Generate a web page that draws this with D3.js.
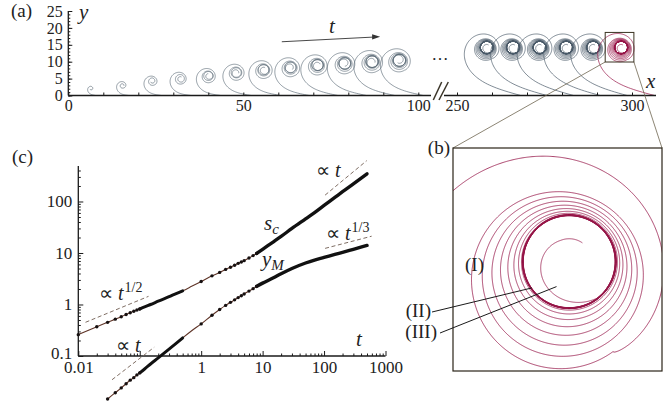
<!DOCTYPE html>
<html><head><meta charset="utf-8">
<script src="https://cdn.jsdelivr.net/npm/d3@7"></script>
<style>
body{margin:0;background:#fff}
svg{display:block}
</style></head><body>
<svg id="fig" width="672" height="409"></svg>
<script>
// ---------- (a) snapshots of the rolled-up sheet ----------
var snapX = [6.5, 15.5, 24, 32, 40, 48, 55.8, 63.5, 71.2, 79, 86.8, 94.6, 258.5, 266, 273.6, 281.2, 288.9, 296.9];
var snapY = [2.0, 3.0, 4.2, 5.0, 5.8, 6.8, 7.6, 8.3, 9.0, 9.5, 10.0, 10.4, 14.2, 14.2, 14.2, 14.2, 14.2, 14.2];
var snapRc = [0.6, 0.8, 1.0, 1.15, 1.3, 1.4, 1.5, 1.55, 1.6, 1.65, 1.7, 1.75, 1.8, 1.8, 1.8, 1.8, 1.8, 1.8];
var snapTurns = [0.6, 1.2, 1.6, 2, 2.4, 2.7, 3, 3.3, 3.6, 3.9, 4.2, 4.5, 8, 8, 8, 8, 8, 9];
var snapAmp = [0.4, 0.8, 1.05, 1.3, 1.45, 1.55, 1.65, 1.7, 1.75, 1.8, 1.85, 1.9, 1.8, 1.8, 1.8, 1.8, 1.8, 2.1];
var snapCore = [0, 0, 0, 0, 0.5, 0.5, 1, 1, 1.5, 1.5, 2, 2, 10, 10, 10, 10, 10, 12];

var yTicksA = [0, 5, 10, 15, 20, 25];
var xTicksL = [0, 50, 100];
var xTicksR = [250, 300];

// zoom window (data units of panel a) shown in panel b
var zoomX = [292.34, 300.54];
var zoomY = [9.91, 18.66];

// ---------- (c) growth of s_c and y_M ----------
var tVals = [0.01,0.02,0.03,0.04,0.05,0.06,0.07,0.08,0.09,0.1,0.12,0.15,0.2,0.3,0.4,0.5,0.7,
             1,1.5,2,2.5,3,3.5,4,4.5,5,6,7,8,10,15,20,30,50,70,100,150,200,300,500];
var scVals = [0.26,0.37,0.45,0.52,0.58,0.64,0.69,0.74,0.78,0.82,0.90,1.0,1.16,1.42,1.65,1.84,2.25,
              2.8,3.6,4.2,4.8,5.3,5.8,6.3,6.7,7.1,8.0,8.9,9.8,11.8,16.5,21,30,46,61,84,120,155,220,345];
var yMVals = [null,null,0.0146,0.0194,0.024,0.029,0.034,0.038,0.043,0.047,0.056,0.07,0.092,0.136,0.18,0.225,0.31,
              0.42,0.62,0.80,0.96,1.1,1.23,1.36,1.48,1.6,1.82,2.03,2.25,2.6,3.3,3.95,5.0,6.4,7.3,8.2,9.4,10.3,11.8,14.0];
// guide lines [t0, v0, t1, v1]
var guideHalf = [0.0131, 0.451, 0.139, 1.44];
var guideLowT = [0.0354, 0.0346, 0.172, 0.148];
var guideUpT = [104, 133, 495, 621];
var guideThird = [104, 12.3, 595, 21.2];
var yTicksC = [0.1, 1, 10, 100];
var xTicksC = [0.01, 0.1, 1, 10, 100, 1000];

var SERIF = '"Liberation Serif","Times New Roman",Times,serif';
var GREY = "#4a5a68", MAG = "#961547", INK = "#1a1a1a";

var svg = d3.select("#fig");

// ---------- spiral geometry ----------
var TH0 = 53 * Math.PI / 180;
function spiralPts(i, step) {
    var x0 = snapX[i], y0 = snapY[i], rc = snapRc[i], N = snapTurns[i],
        A = snapAmp[i], nc = snapCore[i];
    var coreSp = 0.002 * rc;
    var r0 = (y0 - 0.4 * A) / Math.sin(TH0);
    var tailA = r0 - rc - A - coreSp * nc;
    var U = N + nc, uEnd = U + 0.7;
    var pts = [];
    for (var u = 0; u <= uEnd + 1e-9; u += step) {
        var arch = u < N ? A * Math.pow((N - u) / N, 1.7) : 0;
        var h = u < 1 ? Math.sqrt(1 - u) / (1 + 10 * u) : 0;
        var base;
        if (u <= U) base = rc + coreSp * (U - Math.max(u, N));
        else {
            var f = Math.min(1, (u - U) / 0.55);
            base = rc * (0.5 + 0.5 * Math.pow(1 - f, 1.5));
        }
        var r = base + arch + tailA * h;
        var th = -TH0 - 2 * Math.PI * u;
        var cx = x0 - 0.25 * arch, cy = y0 - 0.4 * arch;
        pts.push([cx + r * Math.cos(th), cy + r * Math.sin(th)]);
    }
    return pts;
}

function styleAxis(g, size) {
    g.attr("font-family", null).attr("font-size", null);
    g.selectAll("text").attr("fill", "#222").style("font-family", SERIF).style("font-size", size + "px");
    g.selectAll("line").attr("stroke", INK).attr("stroke-width", 1);
    g.select(".domain").remove();
}

// ================= panel (a) =================
var xaL = d3.scaleLinear().domain([0, 100]).range([68.3, 418.3]);
var xaR = d3.scaleLinear().domain([250, 300]).range([457, 632]);
var ya = d3.scaleLinear().domain([0, 25]).range([95.5, 11]);
var ga = svg.append("g");

snapX.forEach(function (x, i) {
    var xs = x < 200 ? xaL : xaR;
    var line = d3.line().x(function (p) { return xs(p[0]); }).y(function (p) { return ya(p[1]); });
    ga.append("path")
        .attr("d", line(spiralPts(i, 1 / 120)))
        .attr("fill", "none")
        .attr("stroke", i === snapX.length - 1 ? MAG : GREY)
        .attr("stroke-width", x < 200 ? 0.6 : 0.7);
});

// y axis
ga.append("g").attr("transform", "translate(68.3,0)")
    .call(d3.axisLeft(ya).tickValues(d3.range(0, 26)).tickSize(-2).tickFormat(""))
    .call(styleAxis, 15);
ga.append("g").attr("transform", "translate(68.3,0)")
    .call(d3.axisLeft(ya).tickValues(yTicksA).tickSize(-4).tickPadding(5.5))
    .call(styleAxis, 16);
ga.append("line").attr("x1", 68.3).attr("x2", 68.3).attr("y1", ya(0)).attr("y2", ya(25))
    .attr("stroke", INK).attr("stroke-width", 1.3);

// x axis, two pieces
ga.append("g").attr("transform", "translate(0," + ya(0) + ")")
    .call(d3.axisBottom(xaL).tickValues(d3.range(0, 101, 10)).tickSize(-3).tickPadding(4.5)
        .tickFormat(function (d) { return xTicksL.indexOf(d) >= 0 ? d : ""; }))
    .call(styleAxis, 16);
ga.append("g").attr("transform", "translate(0," + ya(0) + ")")
    .call(d3.axisBottom(xaR).tickValues(d3.range(250, 301, 10)).tickSize(-3).tickPadding(4.5)
        .tickFormat(function (d) { return xTicksR.indexOf(d) >= 0 ? d : ""; }))
    .call(styleAxis, 16);
ga.append("line").attr("x1", 68.3).attr("x2", 431).attr("y1", ya(0)).attr("y2", ya(0))
    .attr("stroke", INK).attr("stroke-width", 1.3);
ga.append("line").attr("x1", 444).attr("x2", 656).attr("y1", ya(0)).attr("y2", ya(0))
    .attr("stroke", INK).attr("stroke-width", 1.3);
// break marks
[[433.3, 441.7], [439, 448.3]].forEach(function (b) {
    ga.append("line").attr("x1", b[0]).attr("y1", 100).attr("x2", b[1]).attr("y2", 82)
        .attr("stroke", "#3a3428").attr("stroke-width", 1.5);
});
ga.append("text").attr("x", 440).attr("y", 60).attr("text-anchor", "middle")
    .style("font-family", SERIF).style("font-size", "17px").attr("fill", "#222").text("…");

// arrow t
var arr = [[61, 15.9], [89.1, 17.4]];
ga.append("line").attr("x1", xaL(arr[0][0])).attr("y1", ya(arr[0][1]))
    .attr("x2", xaL(arr[1][0]) - 5).attr("y2", ya(arr[1][1]) + 0.3)
    .attr("stroke", "#333").attr("stroke-width", 0.9);
(function () {
    var ex = xaL(arr[1][0]), ey = ya(arr[1][1]);
    ga.append("path").attr("d", "M" + ex + "," + ey + "l-8,-2.4l0,5.2z").attr("fill", "#333");
})();

// labels (a)
function lab(g, x, y, txt, size, italic, anchor) {
    return g.append("text").attr("x", x).attr("y", y).attr("text-anchor", anchor || "start")
        .style("font-family", SERIF).style("font-size", size + "px")
        .style("font-style", italic ? "italic" : "normal").attr("fill", "#222").text(txt);
}
lab(ga, 11, 17, "(a)", 19);
lab(ga, 79, 19, "y", 21, true);
lab(ga, 646, 88, "x", 21, true);
lab(ga, 329, 33, "t", 21, true);

// zoom box and connectors
var bx0 = xaR(zoomX[0]), bx1 = xaR(zoomX[1]), by0 = ya(zoomY[1]), by1 = ya(zoomY[0]);
ga.append("line").attr("x1", bx0).attr("y1", by1).attr("x2", 453).attr("y2", 148)
    .attr("stroke", "#6e6650").attr("stroke-width", 0.8);
ga.append("line").attr("x1", bx1).attr("y1", by1).attr("x2", 662).attr("y2", 148)
    .attr("stroke", "#6e6650").attr("stroke-width", 0.8);
ga.append("rect").attr("x", bx0).attr("y", by0).attr("width", bx1 - bx0).attr("height", by1 - by0)
    .attr("fill", "none").attr("stroke", "#3b3322").attr("stroke-width", 1);

// ================= panel (b) =================
var xb = d3.scaleLinear().domain(zoomX).range([453, 662]);
var yb = d3.scaleLinear().domain(zoomY).range([371, 148]);
var gb = svg.append("g");
svg.append("clipPath").attr("id", "clipb").append("rect")
    .attr("x", 453).attr("y", 148).attr("width", 209).attr("height", 223);
var last = snapX.length - 1;
gb.append("path")
    .attr("clip-path", "url(#clipb)")
    .attr("d", d3.line().x(function (p) { return xb(p[0]); }).y(function (p) { return yb(p[1]); })(spiralPts(last, 1 / 720)))
    .attr("fill", "none").attr("stroke", MAG).attr("stroke-width", 0.8);
gb.append("rect").attr("x", 453).attr("y", 148).attr("width", 209).attr("height", 223)
    .attr("fill", "none").attr("stroke", "#2b2418").attr("stroke-width", 1.2);

// leaders (II) and (III)
var rcL = snapRc[last];
var tII = [snapX[last] + rcL * Math.cos(-145 * Math.PI / 180), snapY[last] + rcL * Math.sin(-145 * Math.PI / 180)];
var tIII = [snapX[last] + 0.61 * rcL * Math.cos(-117 * Math.PI / 180), snapY[last] + 0.61 * rcL * Math.sin(-117 * Math.PI / 180)];
gb.append("line").attr("x1", 432).attr("y1", 312).attr("x2", xb(tII[0])).attr("y2", yb(tII[1]))
    .attr("stroke", INK).attr("stroke-width", 1);
gb.append("line").attr("x1", 440).attr("y1", 333).attr("x2", xb(tIII[0])).attr("y2", yb(tIII[1]))
    .attr("stroke", INK).attr("stroke-width", 1);
lab(gb, 450, 154, "(b)", 19, false, "end");
lab(gb, 465, 271, "(I)", 19);
lab(gb, 431, 317, "(II)", 19, false, "end");
lab(gb, 437, 338, "(III)", 19, false, "end");

// ================= panel (c) =================
var xc = d3.scaleLog().domain([0.01, 1000]).range([78.3, 385.5]);
var yc = d3.scaleLog().domain([0.1, 489]).range([356, 166]);
var gc = svg.append("g");

var minorY = [], minorX = [];
[0.1, 1, 10, 100].forEach(function (d) { for (var k = 2; k < 10; k++) if (d * k < 489) minorY.push(d * k); });
[0.01, 0.1, 1, 10, 100].forEach(function (d) { for (var k = 2; k < 10; k++) minorX.push(d * k); });

gc.append("g").attr("transform", "translate(78.3,0)")
    .call(d3.axisLeft(yc).tickValues(minorY).tickSize(-2.5).tickFormat(""))
    .call(styleAxis, 16);
gc.append("g").attr("transform", "translate(78.3,0)")
    .call(d3.axisLeft(yc).tickValues(yTicksC).tickSize(-5).tickPadding(6).tickFormat(d3.format("~g")))
    .call(styleAxis, 17)
    .selectAll(".tick text").attr("dy", function (d) { return d === 0.1 ? "0.12em" : "0.32em"; });
gc.append("g").attr("transform", "translate(0,356)")
    .call(d3.axisBottom(xc).tickValues(minorX).tickSize(-2.5).tickFormat(""))
    .call(styleAxis, 16);
gc.append("g").attr("transform", "translate(0,356)")
    .call(d3.axisBottom(xc).tickValues(xTicksC).tickSize(-5).tickPadding(5)
        .tickFormat(function (d) { return d === 0.1 ? "" : d3.format("~g")(d); }))
    .call(styleAxis, 17);
gc.append("line").attr("x1", 78.3).attr("x2", 78.3).attr("y1", 356).attr("y2", 166)
    .attr("stroke", INK).attr("stroke-width", 1.3);
gc.append("line").attr("x1", 78.3).attr("x2", 385.5).attr("y1", 356).attr("y2", 356)
    .attr("stroke", INK).attr("stroke-width", 1.3);

// guides
[guideHalf, guideLowT, guideUpT, guideThird].forEach(function (g) {
    gc.append("line").attr("x1", xc(g[0])).attr("y1", yc(g[1])).attr("x2", xc(g[2])).attr("y2", yc(g[3]))
        .attr("stroke", "#7f6e64").attr("stroke-width", 1).attr("stroke-dasharray", "4,2.6");
});

// curves
function series(vals) {
    return tVals.map(function (t, i) { return { t: t, v: vals[i] }; })
        .filter(function (d) { return d.v != null; });
}
var lineC = d3.line().x(function (d) { return xc(d.t); }).y(function (d) { return yc(d.v); })
    .curve(d3.curveMonotoneX);
[scVals, yMVals].forEach(function (vals) {
    var s = series(vals);
    gc.append("path").attr("d", lineC(s)).attr("fill", "none")
        .attr("stroke", "#5e3326").attr("stroke-width", 1.1);
    [[0.1, 0.5, 3], [8, 500, 3.4]].forEach(function (seg) {
        var sub = s.filter(function (d) { return d.t >= seg[0] && d.t <= seg[1]; });
        gc.append("path").attr("d", lineC(sub)).attr("fill", "none")
            .attr("stroke", "#111").attr("stroke-width", seg[2]).attr("stroke-linecap", "round");
    });
    gc.selectAll(null).data(s.filter(function (d) { return d.t <= 0.1 || (d.t >= 1 && d.t <= 8); }))
        .enter().append("circle")
        .attr("cx", function (d) { return xc(d.t); }).attr("cy", function (d) { return yc(d.v); })
        .attr("r", 1.7).attr("fill", "#161010");
});

// labels (c)
lab(gc, 12, 163, "(c)", 19);
lab(gc, 356, 346, "t", 21, true);
function prop(x, y, sup) {
    var t = gc.append("text").attr("x", x).attr("y", y).style("font-family", SERIF)
        .style("font-size", "20px").attr("fill", "#222");
    t.append("tspan").text("∝ ");
    t.append("tspan").style("font-style", "italic").text("t");
    if (sup) t.append("tspan").attr("dx", 1).attr("dy", -8).style("font-size", "14px").text(sup);
}
prop(99, 300, "1/2");
prop(116, 352);
prop(316, 177);
prop(326, 240, "1/3");
var sc = lab(gc, 264, 230, "s", 21, true);
sc.append("tspan").attr("dy", 4).style("font-size", "15px").text("c");
var ym = lab(gc, 262, 266, "y", 21, true);
ym.append("tspan").attr("dy", 4).style("font-size", "15px").text("M");
</script>
</body></html>
